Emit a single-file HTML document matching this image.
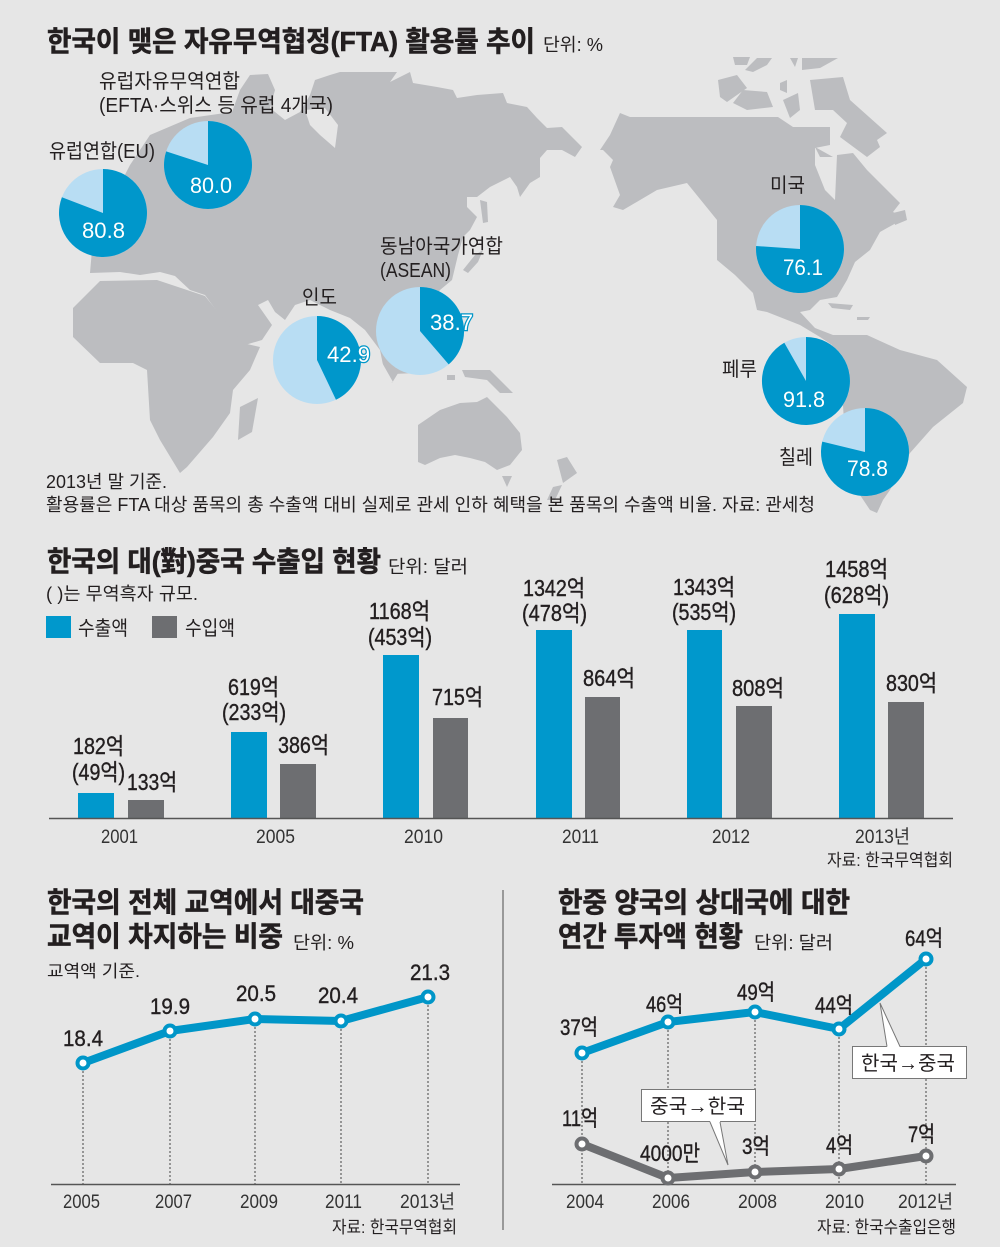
<!DOCTYPE html>
<html><head><meta charset="utf-8"><style>
html,body{margin:0;padding:0;background:#e6e6e6;}
svg{display:block;}
text{font-family:"Liberation Sans","Noto Sans CJK KR",sans-serif;fill:#231f20;}
.t{font-weight:bold;font-size:28px;stroke:#231f20;stroke-width:0.6;}
.u{font-size:18px;}
.c{font-size:20px;}
.n{font-size:18px;}
.pv{font-size:22px;fill:#fff;stroke:#0096c8;stroke-width:2.5;paint-order:stroke;}
.b{font-size:23px;stroke:#231f20;stroke-width:0.4;}
.y{font-size:19px;fill:#333;}
.l{font-size:22px;stroke:#231f20;stroke-width:0.4;}
.s{font-size:17px;}
</style></head><body>
<svg width="1000" height="1247" viewBox="0 0 1000 1247" xmlns="http://www.w3.org/2000/svg">
<rect width="1000" height="1247" fill="#e6e6e6"/>

<!-- MAP -->
<g fill="#bcbdc0">
<polygon points="90,273 92,250 100,225 112,200 130,165 150,135 190,118 232,112 240,90 250,75 268,74 275,90 270,108 285,120 300,112 310,95 315,80 330,75 340,72 397,72 390,82 410,72 413,83 437,87 453,90 457,98 477,95 503,93 507,103 527,107 537,118 547,128 562,127 582,147 575,157 562,150 547,150 540,158 540,177 530,183 520,197 517,187 510,177 490,187 477,197 467,197 467,207 477,217 470,230 463,237 458,255 452,280 440,290 425,310 410,345 400,370 392,383 385,375 380,350 365,330 350,318 330,310 310,300 295,305 285,320 275,312 268,300 258,305 272,325 262,340 245,345 238,340 205,295 190,290 175,276 160,272 140,275 120,272"/>
<polygon points="73,308 100,281 157,280 205,296 243,343 260,347 250,370 233,390 230,413 213,437 187,467 180,473 160,440 150,420 147,370 133,363 100,363 73,337"/>
<polygon points="240,407 258,398 252,432 238,440"/>
<polygon points="393,367 417,366 417,373 393,374"/>
<polygon points="447,375 455,375 455,380 447,380"/>
<polygon points="462,370 490,370 513,393 500,393 487,380 465,377"/>
<polygon points="463,270 475,255 483,250 478,262 468,273"/>
<polygon points="480,200 487,202 488,222 483,223"/>
<polygon points="418,425 440,410 460,403 477,402 487,397 497,407 507,417 520,433 522,450 510,465 497,470 485,462 470,458 455,455 440,458 425,465 418,462"/>
<polygon points="502,476 512,476 507,487"/>
<polygon points="557,460 567,457 577,473 563,483"/>
<polygon points="553,487 562,485 555,500 547,500"/>
<polygon points="600,150 610,135 620,113 630,117 778,117 793,127 830,127 830,145 815,148 815,165 825,190 835,200 837,155 853,153 867,170 900,203 893,212 905,218 880,232 870,250 855,262 847,280 837,297 820,300 810,310 800,312 815,328 833,335 867,335 900,350 937,360 967,387 963,403 933,427 910,453 890,490 883,500 877,513 870,510 860,495 850,470 845,440 843,405 835,370 832,345 820,337 800,325 767,312 757,310 753,293 735,275 717,260 717,220 687,183 657,190 623,210 613,207 620,195 610,167 613,160 603,150"/>
<polygon points="828,303 853,305 850,310 832,308"/>
<polygon points="857,317 870,317 868,320 857,320"/>
<polygon points="733,57 750,57 747,65 735,65"/>
<polygon points="757,58 772,58 767,65 753,72 745,70"/>
<polygon points="790,58 798,58 795,67"/>
<polygon points="802,58 838,58 820,68 802,70"/>
<polygon points="718,80 737,75 747,88 727,102 720,97"/>
<polygon points="733,103 743,90 767,92 773,107 747,110"/>
<polygon points="780,83 787,80 787,93 780,90"/>
<polygon points="783,100 798,93 800,110 790,118"/>
<polygon points="810,80 843,77 850,100 887,133 877,140 880,147 867,157 840,137 847,123 833,110 815,110"/>
<polygon points="815,147 833,157 820,157"/>
<polygon points="893,213 905,210 907,220 895,225"/>
</g>
<polygon points="305,110 325,108 338,125 335,148 320,135 310,125" fill="#e6e6e6"/>
<polygon points="370,355 376,352 393,382 388,384" fill="#e6e6e6"/>

<!-- PIES -->
<g>
<circle cx="103" cy="213" r="44" fill="#b8ddf3"/>
<path d="M103,213 L103,169 A44,44 0 1 1 61.9,197.3 Z" fill="#0097cb"/>
<circle cx="208" cy="165" r="44" fill="#b8ddf3"/>
<path d="M208,165 L208,121 A44,44 0 1 1 166.15,151.4 Z" fill="#0097cb"/>
<circle cx="317" cy="360" r="44" fill="#b8ddf3"/>
<path d="M317,360 L317,316 A44,44 0 0 1 335.98,399.7 Z" fill="#0097cb"/>
<circle cx="420" cy="331" r="44" fill="#b8ddf3"/>
<path d="M420,331 L420,287 A44,44 0 0 1 448.7,364.4 Z" fill="#0097cb"/>
<circle cx="800" cy="249" r="44" fill="#b8ddf3"/>
<path d="M800,249 L800,205 A44,44 0 1 1 756.1,246 Z" fill="#0097cb"/>
<circle cx="806" cy="381" r="44" fill="#b8ddf3"/>
<path d="M806,381 L806,337 A44,44 0 1 1 784.3,342.7 Z" fill="#0097cb"/>
<circle cx="865" cy="452" r="44" fill="#b8ddf3"/>
<path d="M865,452 L865,408 A44,44 0 1 1 822.25,441.6 Z" fill="#0097cb"/>
</g>
<text class="pv" x="82" y="238" textLength="43" lengthAdjust="spacingAndGlyphs">80.8</text>
<text class="pv" x="190" y="193" textLength="42" lengthAdjust="spacingAndGlyphs">80.0</text>
<text class="pv" x="327" y="362" textLength="43" lengthAdjust="spacingAndGlyphs">42.9</text>
<text class="pv" x="430" y="330" textLength="43" lengthAdjust="spacingAndGlyphs">38.7</text>
<text class="pv" x="783" y="275" textLength="40" lengthAdjust="spacingAndGlyphs">76.1</text>
<text class="pv" x="783" y="407" textLength="42" lengthAdjust="spacingAndGlyphs">91.8</text>
<text class="pv" x="847" y="476" textLength="41" lengthAdjust="spacingAndGlyphs">78.8</text>

<!-- Title 1 -->
<text class="t" x="47" y="51" textLength="488" lengthAdjust="spacingAndGlyphs">한국이 맺은 자유무역협정(FTA) 활용률 추이</text>
<text class="u" x="543" y="51" textLength="60" lengthAdjust="spacingAndGlyphs">단위: %</text>

<text class="c" x="99" y="88" textLength="141" lengthAdjust="spacingAndGlyphs">유럽자유무역연합</text>
<text class="c" x="99" y="112" textLength="234" lengthAdjust="spacingAndGlyphs">(EFTA·스위스 등 유럽 4개국)</text>
<text class="c" x="49" y="158" textLength="106" lengthAdjust="spacingAndGlyphs">유럽연합(EU)</text>
<text class="c" x="380" y="253" textLength="123" lengthAdjust="spacingAndGlyphs">동남아국가연합</text>
<text class="c" x="380" y="277" textLength="71" lengthAdjust="spacingAndGlyphs">(ASEAN)</text>
<text class="c" x="302" y="304" textLength="35" lengthAdjust="spacingAndGlyphs">인도</text>
<text class="c" x="770" y="192" textLength="35" lengthAdjust="spacingAndGlyphs">미국</text>
<text class="c" x="722" y="376" textLength="35" lengthAdjust="spacingAndGlyphs">페루</text>
<text class="c" x="779" y="464" textLength="34" lengthAdjust="spacingAndGlyphs">칠레</text>

<text class="n" x="46" y="488" textLength="121" lengthAdjust="spacingAndGlyphs">2013년 말 기준.</text>
<text class="n" x="46" y="511" textLength="769" lengthAdjust="spacingAndGlyphs">활용률은 FTA 대상 품목의 총 수출액 대비 실제로 관세 인하 혜택을 본 품목의 수출액 비율.  자료: 관세청</text>

<!-- BAR CHART -->
<text class="t" x="47" y="571" textLength="334" lengthAdjust="spacingAndGlyphs">한국의 대(對)중국 수출입 현황</text>
<text class="u" x="388" y="573" textLength="80" lengthAdjust="spacingAndGlyphs">단위: 달러</text>
<text class="n" x="46" y="600" textLength="152" lengthAdjust="spacingAndGlyphs">( )는 무역흑자 규모.</text>
<rect x="46" y="616" width="25" height="22" fill="#0098cc"/>
<text class="c" x="78" y="635" textLength="50" lengthAdjust="spacingAndGlyphs">수출액</text>
<rect x="152" y="616" width="25" height="22" fill="#6d6e71"/>
<text class="c" x="185" y="635" textLength="50" lengthAdjust="spacingAndGlyphs">수입액</text>

<g fill="#0098cc">
<rect x="78" y="793" width="36" height="25"/>
<rect x="231" y="732" width="36" height="86"/>
<rect x="383" y="655" width="36" height="163"/>
<rect x="536" y="630" width="36" height="188"/>
<rect x="687" y="630" width="35" height="188"/>
<rect x="839" y="614" width="36" height="204"/>
</g>
<g fill="#6d6e71">
<rect x="128" y="800" width="36" height="18"/>
<rect x="280" y="764" width="36" height="54"/>
<rect x="433" y="718" width="35" height="100"/>
<rect x="585" y="697" width="35" height="121"/>
<rect x="736" y="706" width="36" height="112"/>
<rect x="888" y="702" width="36" height="116"/>
</g>
<line x1="49" y1="818.5" x2="953" y2="818.5" stroke="#555" stroke-width="1.5"/>

<text class="b" x="73" y="754" textLength="51" lengthAdjust="spacingAndGlyphs">182억</text>
<text class="b" x="72" y="780" textLength="53" lengthAdjust="spacingAndGlyphs">(49억)</text>
<text class="b" x="127" y="790" textLength="50" lengthAdjust="spacingAndGlyphs">133억</text>
<text class="b" x="228" y="695" textLength="51" lengthAdjust="spacingAndGlyphs">619억</text>
<text class="b" x="222" y="720" textLength="64" lengthAdjust="spacingAndGlyphs">(233억)</text>
<text class="b" x="278" y="753" textLength="51" lengthAdjust="spacingAndGlyphs">386억</text>
<text class="b" x="369" y="619" textLength="61" lengthAdjust="spacingAndGlyphs">1168억</text>
<text class="b" x="368" y="645" textLength="64" lengthAdjust="spacingAndGlyphs">(453억)</text>
<text class="b" x="432" y="705" textLength="51" lengthAdjust="spacingAndGlyphs">715억</text>
<text class="b" x="523" y="596" textLength="62" lengthAdjust="spacingAndGlyphs">1342억</text>
<text class="b" x="522" y="621" textLength="65" lengthAdjust="spacingAndGlyphs">(478억)</text>
<text class="b" x="583" y="686" textLength="52" lengthAdjust="spacingAndGlyphs">864억</text>
<text class="b" x="673" y="595" textLength="62" lengthAdjust="spacingAndGlyphs">1343억</text>
<text class="b" x="672" y="620" textLength="64" lengthAdjust="spacingAndGlyphs">(535억)</text>
<text class="b" x="732" y="696" textLength="52" lengthAdjust="spacingAndGlyphs">808억</text>
<text class="b" x="825" y="577" textLength="63" lengthAdjust="spacingAndGlyphs">1458억</text>
<text class="b" x="824" y="603" textLength="65" lengthAdjust="spacingAndGlyphs">(628억)</text>
<text class="b" x="886" y="691" textLength="51" lengthAdjust="spacingAndGlyphs">830억</text>

<text class="y" x="101" y="843" textLength="37" lengthAdjust="spacingAndGlyphs">2001</text>
<text class="y" x="256" y="843" textLength="39" lengthAdjust="spacingAndGlyphs">2005</text>
<text class="y" x="404" y="843" textLength="39" lengthAdjust="spacingAndGlyphs">2010</text>
<text class="y" x="562" y="843" textLength="37" lengthAdjust="spacingAndGlyphs">2011</text>
<text class="y" x="712" y="843" textLength="38" lengthAdjust="spacingAndGlyphs">2012</text>
<text class="y" x="855" y="843" textLength="55" lengthAdjust="spacingAndGlyphs">2013년</text>
<text class="s" x="827" y="866" textLength="126" lengthAdjust="spacingAndGlyphs">자료: 한국무역협회</text>

<!-- LEFT LINE CHART -->
<text class="t" x="47" y="912" textLength="317" lengthAdjust="spacingAndGlyphs">한국의 전체 교역에서 대중국</text>
<text class="t" x="47" y="946" textLength="236" lengthAdjust="spacingAndGlyphs">교역이 차지하는 비중</text>
<text class="u" x="293" y="949" textLength="61" lengthAdjust="spacingAndGlyphs">단위: %</text>
<text class="s" x="47" y="977" textLength="93" lengthAdjust="spacingAndGlyphs">교역액 기준.</text>

<g stroke="#444" stroke-width="1" stroke-dasharray="2,2">
<line x1="83" y1="1063" x2="83" y2="1184"/>
<line x1="170" y1="1031" x2="170" y2="1184"/>
<line x1="255" y1="1019" x2="255" y2="1184"/>
<line x1="341" y1="1021" x2="341" y2="1184"/>
<line x1="428" y1="997" x2="428" y2="1184"/>
</g>
<line x1="51" y1="1184.5" x2="460" y2="1184.5" stroke="#555" stroke-width="1.5"/>
<polyline points="83,1063 170,1031 255,1019 341,1021 428,997" fill="none" stroke="#0096c8" stroke-width="8" stroke-linejoin="round"/>
<g fill="#fff" stroke="#0096c8" stroke-width="4">
<circle cx="83" cy="1063" r="5.5"/>
<circle cx="170" cy="1031" r="5.5"/>
<circle cx="255" cy="1019" r="5.5"/>
<circle cx="341" cy="1021" r="5.5"/>
<circle cx="428" cy="997" r="5.5"/>
</g>
<text class="l" x="63" y="1046" textLength="40" lengthAdjust="spacingAndGlyphs">18.4</text>
<text class="l" x="150" y="1014" textLength="40" lengthAdjust="spacingAndGlyphs">19.9</text>
<text class="l" x="236" y="1001" textLength="40" lengthAdjust="spacingAndGlyphs">20.5</text>
<text class="l" x="318" y="1003" textLength="40" lengthAdjust="spacingAndGlyphs">20.4</text>
<text class="l" x="410" y="980" textLength="40" lengthAdjust="spacingAndGlyphs">21.3</text>
<text class="y" x="63" y="1208" textLength="37" lengthAdjust="spacingAndGlyphs">2005</text>
<text class="y" x="155" y="1208" textLength="37" lengthAdjust="spacingAndGlyphs">2007</text>
<text class="y" x="240" y="1208" textLength="38" lengthAdjust="spacingAndGlyphs">2009</text>
<text class="y" x="325" y="1208" textLength="37" lengthAdjust="spacingAndGlyphs">2011</text>
<text class="y" x="400" y="1208" textLength="55" lengthAdjust="spacingAndGlyphs">2013년</text>
<text class="s" x="332" y="1233" textLength="125" lengthAdjust="spacingAndGlyphs">자료: 한국무역협회</text>

<!-- separator -->
<line x1="503" y1="890" x2="503" y2="1230" stroke="#999" stroke-width="2"/>

<!-- RIGHT LINE CHART -->
<text class="t" x="558" y="912" textLength="292" lengthAdjust="spacingAndGlyphs">한중 양국의 상대국에 대한</text>
<text class="t" x="558" y="946" textLength="185" lengthAdjust="spacingAndGlyphs">연간 투자액 현황</text>
<text class="u" x="754" y="949" textLength="79" lengthAdjust="spacingAndGlyphs">단위: 달러</text>

<g stroke="#444" stroke-width="1" stroke-dasharray="2,2">
<line x1="582" y1="1053" x2="582" y2="1184"/>
<line x1="668" y1="1022" x2="668" y2="1184"/>
<line x1="755" y1="1012" x2="755" y2="1184"/>
<line x1="839" y1="1029" x2="839" y2="1184"/>
<line x1="926" y1="959" x2="926" y2="1184"/>
</g>
<line x1="552" y1="1184.5" x2="956" y2="1184.5" stroke="#555" stroke-width="1.5"/>

<polyline points="582,1053 668,1022 755,1012 839,1029 926,959" fill="none" stroke="#0096c8" stroke-width="8" stroke-linejoin="round"/>
<g fill="#fff" stroke="#0096c8" stroke-width="4">
<circle cx="582" cy="1053" r="5.5"/>
<circle cx="668" cy="1022" r="5.5"/>
<circle cx="755" cy="1012" r="5.5"/>
<circle cx="839" cy="1029" r="5.5"/>
<circle cx="926" cy="959" r="5.5"/>
</g>
<polyline points="582,1144 668,1178 755,1172 839,1169 926,1156" fill="none" stroke="#6d6e71" stroke-width="8" stroke-linejoin="round"/>
<g fill="#fff" stroke="#6d6e71" stroke-width="4">
<circle cx="582" cy="1144" r="5.5"/>
<circle cx="668" cy="1178" r="5.5"/>
<circle cx="755" cy="1172" r="5.5"/>
<circle cx="839" cy="1169" r="5.5"/>
<circle cx="926" cy="1156" r="5.5"/>
</g>

<!-- callouts -->
<rect x="852.5" y="1046.5" width="114" height="32" fill="#fff" stroke="#777" stroke-width="1"/>
<polygon points="887,1047.5 880,1003 900,1047.5" fill="#fff"/>
<polyline points="887,1046.5 880,1003 900,1046.5" fill="none" stroke="#777" stroke-width="1"/>
<text class="c" x="861" y="1070" textLength="94" lengthAdjust="spacingAndGlyphs">한국→중국</text>

<rect x="641.5" y="1089.5" width="114" height="32" fill="#fff" stroke="#777" stroke-width="1"/>
<polygon points="710,1121 728,1165 720,1121" fill="#fff"/>
<polyline points="710,1122 728,1165 720,1122" fill="none" stroke="#777" stroke-width="1"/>
<text class="c" x="650" y="1113" textLength="95" lengthAdjust="spacingAndGlyphs">중국→한국</text>

<text class="l" x="560" y="1035" textLength="38" lengthAdjust="spacingAndGlyphs">37억</text>
<text class="l" x="646" y="1012" textLength="37" lengthAdjust="spacingAndGlyphs">46억</text>
<text class="l" x="737" y="1000" textLength="38" lengthAdjust="spacingAndGlyphs">49억</text>
<text class="l" x="815" y="1013" textLength="38" lengthAdjust="spacingAndGlyphs">44억</text>
<text class="l" x="905" y="946" textLength="38" lengthAdjust="spacingAndGlyphs">64억</text>
<text class="l" x="562" y="1126" textLength="36" lengthAdjust="spacingAndGlyphs">11억</text>
<text class="l" x="640" y="1161" textLength="60" lengthAdjust="spacingAndGlyphs">4000만</text>
<text class="l" x="742" y="1154" textLength="28" lengthAdjust="spacingAndGlyphs">3억</text>
<text class="l" x="826" y="1153" textLength="27" lengthAdjust="spacingAndGlyphs">4억</text>
<text class="l" x="908" y="1142" textLength="27" lengthAdjust="spacingAndGlyphs">7억</text>

<text class="y" x="566" y="1208" textLength="38" lengthAdjust="spacingAndGlyphs">2004</text>
<text class="y" x="652" y="1208" textLength="38" lengthAdjust="spacingAndGlyphs">2006</text>
<text class="y" x="738" y="1208" textLength="39" lengthAdjust="spacingAndGlyphs">2008</text>
<text class="y" x="825" y="1208" textLength="39" lengthAdjust="spacingAndGlyphs">2010</text>
<text class="y" x="898" y="1208" textLength="55" lengthAdjust="spacingAndGlyphs">2012년</text>
<text class="s" x="817" y="1233" textLength="139" lengthAdjust="spacingAndGlyphs">자료: 한국수출입은행</text>
</svg>
</body></html>
